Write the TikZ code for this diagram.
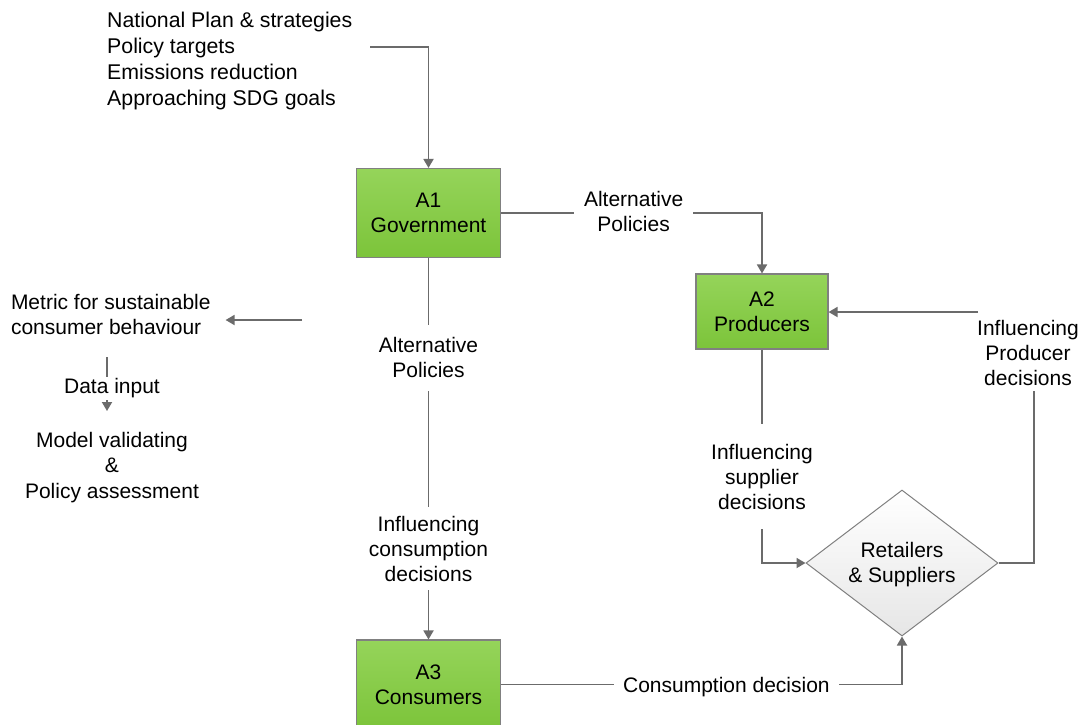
\documentclass[tikz,border=0pt]{standalone}
\usepackage{fontspec}
\setmainfont{Liberation Sans}
\usetikzlibrary{shapes.geometric,arrows.meta}

\definecolor{linegray}{HTML}{6B6B6B}
\definecolor{boxtop}{HTML}{95D45A}
\definecolor{boxbot}{HTML}{7CC43A}
\definecolor{boxedge}{HTML}{808080}
\definecolor{dtop}{HTML}{FFFFFF}
\definecolor{dbot}{HTML}{E6E6E6}

\begin{document}
\begin{tikzpicture}[x=1pt,y=-1pt,
  font=\fontsize{21}{25}\selectfont,
  actor/.style={draw=boxedge, line width=1.1pt, top color=boxtop, bottom color=boxbot,
    align=center, inner sep=0pt},
  hub/.style={shape=diamond, aspect=1.3, draw=boxedge, line width=1pt,
    top color=dtop, bottom color=dbot, align=center, inner sep=0pt,
    minimum width=192pt, minimum height=146pt},
  plain/.style={align=center, inner sep=0pt},
  lbl/.style={fill=white, align=center, inner xsep=10pt, inner ysep=6pt},
  wire/.style={draw=linegray, line width=1.8pt},
  conn/.style={wire, -{Triangle[length=9pt,width=10pt]}}
]
\clip (0,0) rectangle (1083,724);
\fill[white] (0,0) rectangle (1083,724);

% actors
\node[actor, minimum width=144pt, minimum height=89pt] (a1) at (428.5,213) {A1\\Government};
\node[actor, minimum width=132pt, minimum height=75pt] (a2) at (762,311.5) {A2\\Producers};
\node[actor, minimum width=144pt, minimum height=89pt] (a3) at (428.5,684.5) {A3\\Consumers};
\node[hub] (rt) at (902,563) {};
\node[plain] (rttext) at (902,565) {Retailers\\\& Suppliers};

% free text
\node[plain, align=left, anchor=west, font=\fontsize{21.3}{26}\selectfont] (goals) at (107,61)
  {National Plan \& strategies\\Policy targets\\Emissions reduction\\Approaching SDG goals};
\node[plain, align=left, anchor=west, outer xsep=15pt] (metric) at (-4,314.5)
  {Metric for sustainable\\consumer behaviour};
\node[plain, font=\fontsize{21}{25.5}\selectfont] (model) at (112,467.5) {Model validating\\\&\\Policy assessment};

% connectors
\coordinate (gstart) at (370,47);
\draw[conn] (gstart) -| (a1.north);

\draw[conn] (a1.east) -| node[lbl, pos=0.254, yshift=2pt]{Alternative\\Policies} (a2.north);

\draw[conn] (a1.south) --
  node[lbl, pos=0.262, inner ysep=13pt]{Alternative\\Policies}
  node[lbl, pos=0.762, inner ysep=9pt]{Influencing\\consumption\\decisions}
  (a3.north);

\draw[conn] (a2.south) |- node[lbl, pos=0.3, inner ysep=20pt, yshift=1pt]{Influencing\\supplier\\decisions} (rt.west);

\draw[conn] (a3.east) -| node[lbl, pos=0.281, inner xsep=9pt, yshift=-2.5pt]{Consumption decision} (rt.south);

\node[plain] (pdec) at (1028,353) {Influencing\\Producer\\decisions};
\coordinate (pd1) at (1034,391);
\coordinate (pd2) at (978,312);
\draw[wire] (rt.east) -| (pd1);
\draw[conn] (pd2) -- (pd2 -| a2.east);

\coordinate (mstart) at (302,320);
\draw[conn] (mstart) -- (mstart -| metric.east);

\coordinate (d1) at (107,357);
\coordinate (d2) at (107,411);
\draw[conn] (d1) -- node[lbl, pos=0.58, inner ysep=2pt, xshift=5pt]{Data input} (d2);
\end{tikzpicture}
\end{document}
